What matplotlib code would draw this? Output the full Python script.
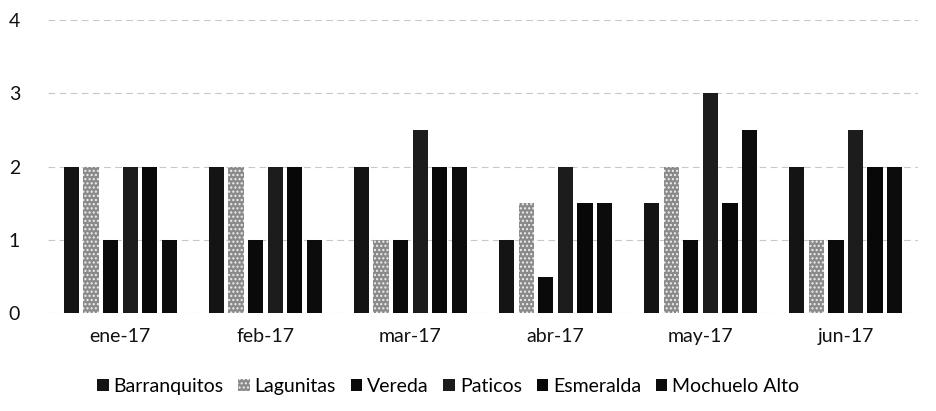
import matplotlib.pyplot as plt
import numpy as np

plt.rcParams['font.family'] = ['Lato', 'DejaVu Sans']

# months and sites
months = ['ene-17', 'feb-17', 'mar-17', 'abr-17', 'may-17', 'jun-17']
sites = ['Barranquitos', 'Lagunitas', 'Vereda', 'Paticos', 'Esmeralda', 'Mochuelo Alto']

barranquitos = [2, 2, 2, 1, 1.5, 2]
lagunitas = [2, 2, 1, 1.5, 2, 1]
vereda = [1, 1, 1, 0.5, 1, 1]
paticos = [2, 2, 2.5, 2, 3, 2.5]
esmeralda = [2, 2, 2, 1.5, 1.5, 2]
mochuelo = [1, 1, 2, 1.5, 2.5, 2]

series = [barranquitos, lagunitas, vereda, paticos, esmeralda, mochuelo]
colors = ['#141414', '#8a8a8a', '#0a0a0a', '#1c1c1c', '#080808', '#0c0c0c']
hatches = [None, '....', None, None, None, None]

fig = plt.figure(figsize=(9.37, 4.11), dpi=100)
ax = fig.add_axes([0.051, 0.238, 0.929, 0.713])

x = np.arange(len(months))
w = 0.105
step = 0.135
for i, (s, name) in enumerate(zip(series, sites)):
    off = (i - 2.5) * step
    ax.bar(x + off, s, width=w, color=colors[i], label=name,
           hatch=hatches[i], edgecolor='#f0f0f0' if hatches[i] else colors[i],
           linewidth=0, zorder=3)

ax.set_xlim(-0.5, 5.5)
ax.set_ylim(0, 4)
ax.set_yticks([0, 1, 2, 3, 4])
ax.set_xticks(x)
ax.set_xticklabels(months)
ax.yaxis.grid(True, color='#c8c8c8', linewidth=0.8, linestyle=(0, (6, 4)), zorder=0)
for sp in ax.spines.values():
    sp.set_visible(False)
ax.tick_params(length=0, labelsize=14, colors='#111111')
ax.tick_params(axis='y', pad=20)
ax.tick_params(axis='x', pad=11)

ax.legend(loc='upper center', bbox_to_anchor=(0.46, -0.16), ncol=6, frameon=False,
          fontsize=14, handlelength=0.6, handleheight=0.6, handletextpad=0.25,
          columnspacing=0.75)

fig.savefig('out.png', dpi=100)
